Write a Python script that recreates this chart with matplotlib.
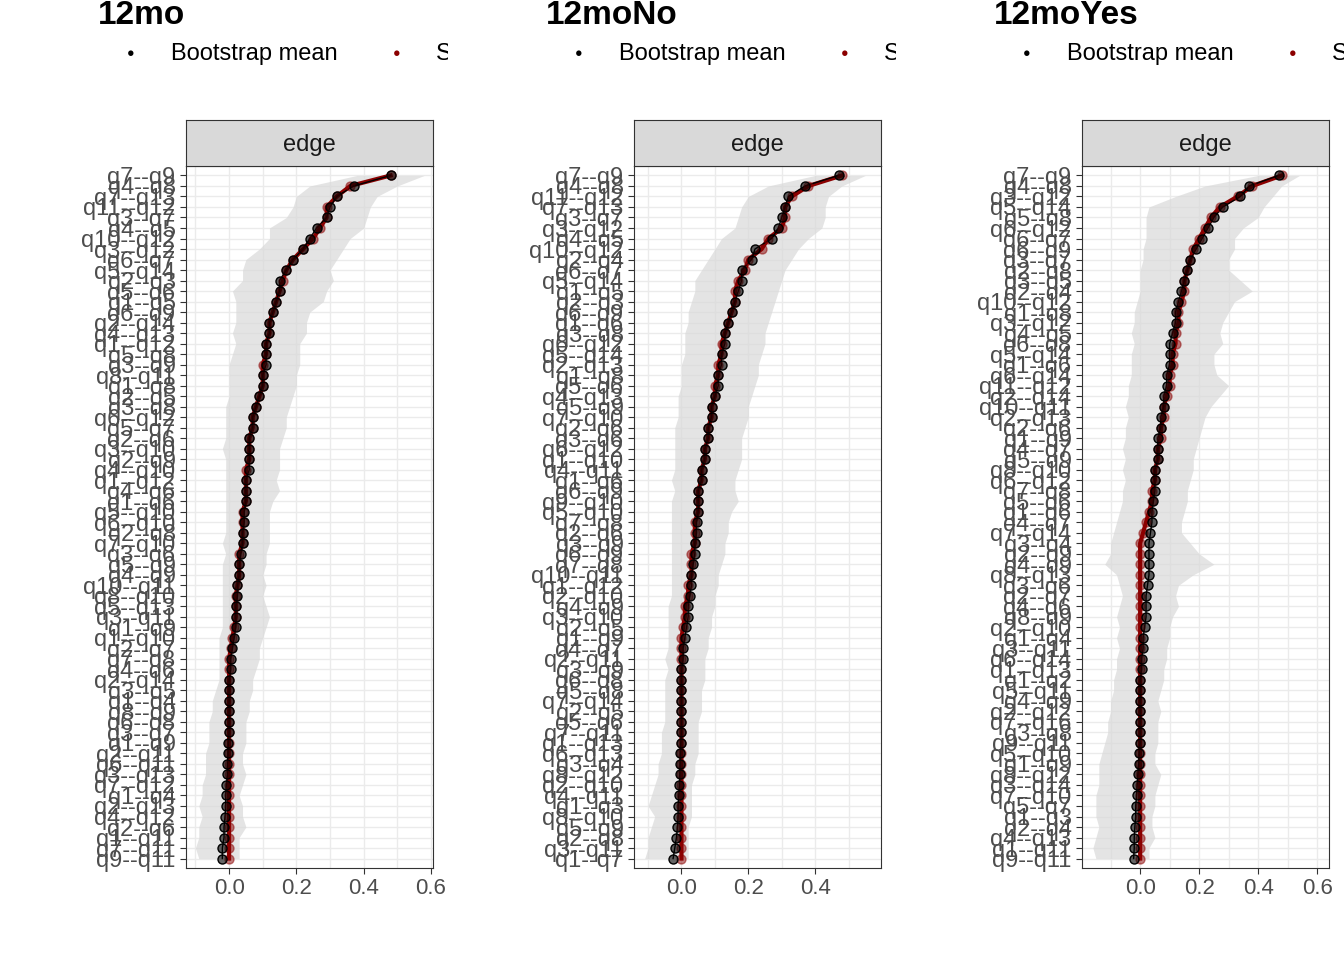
import numpy as np
import matplotlib.pyplot as plt
from matplotlib.patches import Rectangle

plt.rcParams['font.family'] = ['Liberation Sans', 'DejaVu Sans']

titles = ["12mo", "12moNo", "12moYes"]

labels_1 = ("q7--q9 q4--q8 q7--q13 q11--q12 q3--q7 q4--q5 q10--q12 q3--q12 q6--q7 q5--q14 q2--q3 q5--q6 q1--q5 q6--q9 q2--q14 q4--q13 q1--q12 q5--q8 "
            "q3--q9 q8--q11 q1--q8 q2--q5 q3--q8 q6--q12 q5--q7 q2--q6 q3--q10 q2--q9 q4--q10 q1--q12 q4--q6 q1--q6 q5--q10 q6--q10 q2--q8 q7--q10 "
            "q3--q6 q5--q9 q4--q9 q10--q11 q8--q10 q5--q13 q3--q11 q1--q9 q1--q10 q2--q7 q7--q8 q4--q6 q2--q14 q3--q5 q1--q4 q8--q9 q6--q8 q3--q7 "
            "q1--q9 q2--q11 q6--q11 q3--q13 q7--q12 q1--q4 q2--q13 q4--q12 q2--q6 q1--q11 q7--q11 q9--q11").split()
labels_2 = ("q7--q9 q4--q8 q11--q12 q7--q13 q3--q7 q3--q12 q4--q5 q10--q12 q2--q4 q6--q7 q5--q14 q1--q5 q2--q3 q6--q9 q1--q6 q3--q8 q6--q12 q5--q14 "
            "q2--q13 q1--q8 q5--q6 q4--q13 q5--q9 q7--q10 q2--q6 q3--q6 q6--q12 q1--q10 q4--q11 q1--q6 q6--q9 q9--q10 q5--q10 q7--q8 q2--q6 q3--q9 "
            "q6--q9 q7--q8 q10--q11 q1--q12 q2--q10 q4--q9 q3--q10 q2--q5 q1--q9 q4--q7 q2--q11 q3--q9 q6--q8 q5--q8 q7--q14 q2--q5 q5--q6 q7--q11 "
            "q1--q13 q6--q13 q3--q4 q8--q12 q2--q10 q4--q11 q1--q3 q8--q10 q5--q9 q2--q8 q3--q11 q1--q7").split()
labels_3 = ("q7--q9 q4--q8 q3--q12 q5--q14 q5--q8 q6--q12 q6--q7 q6--q9 q3--q7 q2--q8 q3--q5 q2--q4 q10--q12 q1--q8 q3--q12 q4--q5 q6--q8 q5--q14 "
            "q1--q6 q6--q14 q11--q12 q2--q14 q10--q11 q2--q13 q2--q6 q1--q9 q4--q7 q5--q9 q8--q10 q6--q12 q7--q8 q5--q6 q1--q6 q4--q7 q7--q14 q3--q4 "
            "q2--q9 q4--q9 q8--q13 q3--q6 q2--q7 q4--q6 q8--q9 q2--q10 q1--q4 q3--q11 q6--q14 q1--q13 q1--q2 q5--q11 q4--q9 q2--q12 q7--q16 q3--q8 "
            "q9--q11 q5--q10 q1--q9 q8--q12 q3--q14 q7--q10 q5--q7 q1--q3 q2--q4 q4--q13 q1--q11 q9--q11").split()

mean_1 = [0.48, 0.37, 0.32, 0.30, 0.29, 0.26, 0.24, 0.22, 0.19, 0.17, 0.15, 0.15, 0.14, 0.13, 0.12, 0.12, 0.11, 0.11,
          0.11, 0.10, 0.10, 0.09, 0.08, 0.07, 0.07, 0.06, 0.06, 0.06, 0.06, 0.05, 0.05, 0.05, 0.045, 0.045, 0.04, 0.04,
          0.035, 0.03, 0.03, 0.025, 0.025, 0.02, 0.02, 0.02, 0.015, 0.01, 0.005, 0.005, 0.0, 0.0, 0.0, 0.0, 0.0, 0.0,
          -0.002, -0.003, -0.005, -0.005, -0.008, -0.01, -0.01, -0.012, -0.015, -0.015, -0.02, -0.02]
samp_1 = [0.48, 0.36, 0.32, 0.29, 0.29, 0.27, 0.25, 0.22, 0.19, 0.17, 0.16, 0.15, 0.14, 0.13, 0.12, 0.12, 0.11, 0.11,
          0.10, 0.10, 0.10, 0.09, 0.08, 0.07, 0.07, 0.06, 0.06, 0.06, 0.05, 0.05, 0.05, 0.05, 0.04, 0.04, 0.04, 0.04,
          0.03, 0.03, 0.03, 0.025, 0.02, 0.02, 0.02, 0.015, 0.01, 0.005, 0.0, 0.0, 0.0, 0.0, 0.0, 0.0, 0.0, 0.0,
          0.0, 0.0, 0.0, 0.0, 0.0, 0.0, 0.0, 0.0, 0.0, 0.0, 0.0, 0.0]
lo_1 = [0.38, 0.24, 0.20, 0.19, 0.17, 0.12, 0.12, 0.09, 0.05, 0.04, 0.04, 0.01, 0.02, 0.02, 0.02, 0.01, 0.02, 0.01,
        0.0, 0.0, 0.0, 0.0, -0.01, -0.01, -0.01, -0.01, -0.02, -0.01, -0.01, -0.01, -0.01, -0.01, -0.01, -0.01, -0.01, -0.02,
        -0.01, -0.02, -0.02, -0.02, -0.02, -0.02, -0.02, -0.02, -0.03, -0.03, -0.03, -0.03, -0.03, -0.04, -0.05, -0.05, -0.06, -0.06,
        -0.06, -0.07, -0.07, -0.07, -0.08, -0.08, -0.09, -0.08, -0.09, -0.09, -0.10, -0.09]
hi_1 = [0.58, 0.50, 0.44, 0.42, 0.41, 0.40, 0.36, 0.34, 0.32, 0.30, 0.31, 0.29, 0.28, 0.24, 0.23, 0.23, 0.21, 0.21,
        0.21, 0.20, 0.20, 0.19, 0.18, 0.17, 0.17, 0.16, 0.15, 0.15, 0.15, 0.14, 0.15, 0.13, 0.12, 0.12, 0.12, 0.12,
        0.11, 0.11, 0.10, 0.11, 0.10, 0.11, 0.12, 0.11, 0.10, 0.09, 0.09, 0.08, 0.07, 0.07, 0.06, 0.06, 0.05, 0.05,
        0.05, 0.04, 0.04, 0.05, 0.04, 0.03, 0.04, 0.04, 0.05, 0.03, 0.03, 0.03]

mean_2 = [0.47, 0.37, 0.32, 0.31, 0.30, 0.29, 0.27, 0.22, 0.21, 0.18, 0.18, 0.17, 0.16, 0.15, 0.14, 0.13, 0.13, 0.12,
          0.12, 0.11, 0.11, 0.10, 0.09, 0.09, 0.08, 0.08, 0.07, 0.07, 0.06, 0.06, 0.05, 0.05, 0.05, 0.045, 0.045, 0.04,
          0.04, 0.035, 0.03, 0.03, 0.025, 0.02, 0.02, 0.015, 0.01, 0.005, 0.005, 0.0, 0.0, 0.0, 0.0, 0.0, 0.0, 0.0,
          -0.002, -0.003, -0.004, -0.005, -0.006, -0.008, -0.01, -0.01, -0.012, -0.015, -0.02, -0.025]
samp_2 = [0.48, 0.38, 0.33, 0.31, 0.31, 0.30, 0.26, 0.24, 0.20, 0.19, 0.17, 0.16, 0.16, 0.15, 0.14, 0.13, 0.12, 0.12,
          0.11, 0.11, 0.10, 0.10, 0.09, 0.09, 0.08, 0.08, 0.07, 0.07, 0.06, 0.06, 0.05, 0.05, 0.05, 0.04, 0.04, 0.04,
          0.03, 0.03, 0.03, 0.02, 0.02, 0.01, 0.01, 0.005, 0.0, 0.0, 0.0, 0.0, 0.0, 0.0, 0.0, 0.0, 0.0, 0.0,
          0.0, 0.0, 0.0, 0.0, 0.0, 0.0, 0.0, 0.0, 0.0, 0.0, 0.0, 0.0]
lo_2 = [0.40, 0.26, 0.20, 0.18, 0.17, 0.16, 0.12, 0.10, 0.08, 0.06, 0.04, 0.04, 0.03, 0.02, 0.02, 0.01, 0.01, 0.01,
        0.0, 0.0, 0.0, -0.01, -0.01, -0.01, -0.02, -0.02, -0.02, -0.02, -0.02, -0.03, -0.02, -0.03, -0.03, -0.03, -0.03, -0.03,
        -0.03, -0.03, -0.03, -0.03, -0.03, -0.04, -0.04, -0.04, -0.04, -0.04, -0.05, -0.04, -0.05, -0.05, -0.05, -0.05, -0.05, -0.06,
        -0.06, -0.06, -0.07, -0.07, -0.08, -0.09, -0.10, -0.08, -0.09, -0.10, -0.10, -0.11]
hi_2 = [0.55, 0.48, 0.44, 0.43, 0.43, 0.42, 0.38, 0.35, 0.33, 0.31, 0.30, 0.29, 0.28, 0.27, 0.26, 0.25, 0.25, 0.24,
        0.23, 0.23, 0.22, 0.21, 0.20, 0.20, 0.19, 0.18, 0.18, 0.18, 0.17, 0.16, 0.16, 0.17, 0.15, 0.14, 0.14, 0.13,
        0.13, 0.12, 0.11, 0.11, 0.10, 0.10, 0.09, 0.09, 0.08, 0.08, 0.07, 0.07, 0.07, 0.06, 0.06, 0.06, 0.05, 0.05,
        0.05, 0.05, 0.04, 0.04, 0.03, 0.03, 0.03, 0.03, 0.02, 0.02, 0.02, 0.02]

mean_3 = [0.47, 0.37, 0.34, 0.28, 0.25, 0.23, 0.21, 0.19, 0.17, 0.16, 0.15, 0.14, 0.13, 0.12, 0.12, 0.11, 0.10, 0.10,
          0.10, 0.09, 0.09, 0.08, 0.08, 0.07, 0.07, 0.06, 0.06, 0.06, 0.05, 0.05, 0.05, 0.045, 0.04, 0.04, 0.035, 0.03,
          0.03, 0.03, 0.03, 0.025, 0.02, 0.02, 0.02, 0.015, 0.01, 0.01, 0.005, 0.005, 0.0, 0.0, 0.0, 0.0, 0.0, 0.0,
          0.0, -0.003, -0.005, -0.008, -0.01, -0.012, -0.015, -0.015, -0.018, -0.02, -0.02, -0.022]
samp_3 = [0.48, 0.38, 0.33, 0.27, 0.24, 0.22, 0.20, 0.18, 0.17, 0.16, 0.15, 0.15, 0.14, 0.13, 0.13, 0.12, 0.12, 0.11,
          0.11, 0.10, 0.10, 0.09, 0.08, 0.08, 0.07, 0.07, 0.06, 0.06, 0.05, 0.05, 0.04, 0.04, 0.03, 0.02, 0.01, 0.0,
          0.0, 0.0, 0.0, 0.0, 0.0, 0.0, 0.0, 0.0, 0.0, 0.0, 0.0, 0.0, 0.0, 0.0, 0.0, 0.0, 0.0, 0.0,
          0.0, 0.0, 0.0, 0.0, 0.0, 0.0, 0.0, 0.0, 0.0, 0.0, 0.0, 0.0]
lo_3 = [0.40, 0.22, 0.12, 0.03, 0.02, 0.02, 0.02, 0.01, 0.01, 0.0, 0.0, 0.0, -0.01, -0.02, -0.02, -0.03, -0.02, -0.03,
        -0.03, -0.03, -0.04, -0.04, -0.05, -0.04, -0.05, -0.05, -0.06, -0.05, -0.06, -0.05, -0.06, -0.06, -0.07, -0.08, -0.09, -0.10,
        -0.10, -0.12, -0.08, -0.07, -0.06, -0.07, -0.08, -0.07, -0.08, -0.07, -0.08, -0.08, -0.09, -0.09, -0.10, -0.10, -0.11, -0.11,
        -0.12, -0.13, -0.14, -0.14, -0.14, -0.15, -0.15, -0.15, -0.14, -0.15, -0.16, -0.15]
hi_3 = [0.54, 0.48, 0.45, 0.42, 0.40, 0.35, 0.32, 0.32, 0.30, 0.30, 0.34, 0.38, 0.32, 0.30, 0.28, 0.27, 0.28, 0.25,
        0.25, 0.26, 0.30, 0.27, 0.24, 0.22, 0.21, 0.20, 0.19, 0.18, 0.18, 0.17, 0.16, 0.16, 0.15, 0.14, 0.14, 0.17,
        0.20, 0.25, 0.18, 0.13, 0.12, 0.13, 0.11, 0.10, 0.10, 0.09, 0.09, 0.08, 0.08, 0.07, 0.06, 0.07, 0.06, 0.06,
        0.06, 0.05, 0.05, 0.07, 0.06, 0.05, 0.05, 0.04, 0.04, 0.05, 0.03, 0.03]

panels = [(labels_1, mean_1, samp_1, lo_1, hi_1, (-0.128, 0.606), [0.0, 0.2, 0.4, 0.6]),
          (labels_2, mean_2, samp_2, lo_2, hi_2, (-0.142, 0.597), [0.0, 0.2, 0.4]),
          (labels_3, mean_3, samp_3, lo_3, hi_3, (-0.197, 0.640), [0.0, 0.2, 0.4, 0.6])]

W, H = 1344, 960
fig = plt.figure(figsize=(13.44, 9.6), dpi=100)
lefts = [186, 634, 1082]
aw = 247
top, bot, strip_top = 166, 868, 120
tcol = "#4D4D4D"

for k, (labs, mn, sp, lo, hi, xl, xt) in enumerate(panels):
    n = min(len(labs), len(mn), len(sp), len(lo), len(hi))
    y = np.arange(n)[::-1]
    x0 = lefts[k]
    ax = fig.add_axes([x0 / W, 1 - bot / H, aw / W, (bot - top) / H])
    ax.fill_betweenx(y, lo[:n], hi[:n], color="#D9D9D9", alpha=0.7, lw=0)
    ax.plot(sp[:n], y, color="#8B0000", lw=3)
    ax.scatter(sp[:n], y, color="#8B0000", alpha=0.5, s=42, zorder=3)
    ax.plot(mn[:n], y, color="black", lw=1)
    ax.scatter(mn[:n], y, facecolor=(0, 0, 0, 0.6), edgecolor="black", s=42, zorder=4)
    ax.set_xlim(*xl)
    ax.set_ylim(-0.9, n - 0.1)
    ax.set_yticks(y)
    ax.set_yticklabels(labs[:n], fontsize=17, color=tcol)
    ax.set_xticks(xt)
    ax.set_xticklabels([f"{v:.1f}" for v in xt], fontsize=16, color=tcol)
    ax.set_xticks([-0.1, 0.1, 0.3, 0.5], minor=True)
    ax.grid(True, which="both", color="#EBEBEB", lw=1)
    ax.set_axisbelow(True)
    ax.tick_params(which="minor", length=0)
    ax.tick_params(length=4, color="#333333")
    for s in ax.spines.values():
        s.set_color("#333333")
    # facet strip
    sax = fig.add_axes([x0 / W, 1 - top / H, aw / W, (top - strip_top) / H])
    sax.set_facecolor("#D9D9D9")
    sax.set_xticks([])
    sax.set_yticks([])
    for s in sax.spines.values():
        s.set_color("#333333")
    sax.text(0.5, 0.45, "edge", ha="center", va="center", fontsize=17, color="#1A1A1A", transform=sax.transAxes)
    # title and legend
    fig.text((x0 - 88) / W, 1 - 16 / H, titles[k], fontsize=24, fontweight="bold", ha="left", va="center")
    ly = 1 - 54 / H
    fig.text((x0 - 55) / W, ly, "\u25cf", fontsize=9, color="black", ha="center", va="center")
    fig.text((x0 - 15) / W, ly, "Bootstrap mean", fontsize=17, ha="left", va="center")
    fig.text((x0 + 211) / W, ly, "\u25cf", fontsize=9, color="#8B0000", ha="center", va="center")
    t = fig.text((x0 + 250) / W, ly, "Sample", fontsize=17, ha="left", va="center")
    clip = Rectangle((0, 0), (x0 + 262) / W, 1, transform=fig.transFigure, visible=False)
    fig.add_artist(clip)
    t.set_clip_path(clip)

fig.savefig("out.png", dpi=100)
